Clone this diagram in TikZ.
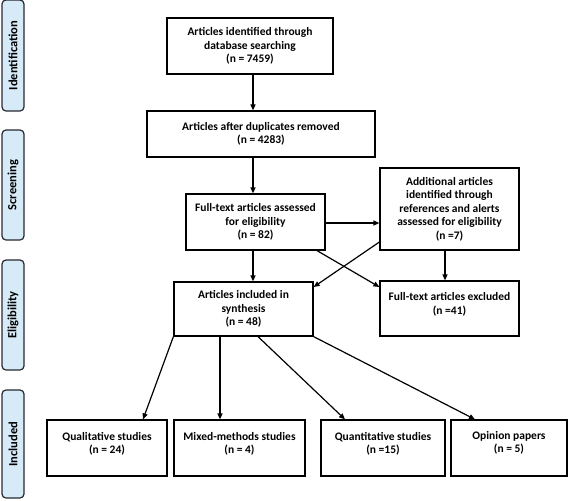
\documentclass[tikz,border=0pt]{standalone}
\usepackage{fontspec}
\setmainfont{Carlito}
\usetikzlibrary{arrows.meta,calc}
\definecolor{sidefill}{RGB}{214,234,248}
\definecolor{sidedraw}{RGB}{40,40,50}
\tikzset{
  box/.style={draw=black, line width=1.2pt, fill=white, align=center, font=\bfseries\fontsize{11.5}{13.5}\selectfont, inner sep=2pt},
  sidebox/.style={draw=sidedraw, line width=1.2pt, fill=sidefill, rounded corners=4pt, rotate=90, font=\bfseries\fontsize{12.5}{14}\selectfont, inner sep=0pt},
  arr/.style={line width=1.2pt, -{Triangle[length=6pt,width=5pt]}}
}
\begin{document}
\begin{tikzpicture}[x=1pt,y=-1pt]
\useasboundingbox (0,0) rectangle (568,501);
% side labels
\node[sidebox, minimum width=111, minimum height=22] (sI) at (13,55.5) {Identification};
\node[sidebox, minimum width=110, minimum height=22] (sS) at (13,185) {Screening};
\node[sidebox, minimum width=110, minimum height=22] (sE) at (13,315) {Eligibility};
\node[sidebox, minimum width=108, minimum height=22] (sN) at (13,444) {Included};
% boxes
\node[box, minimum width=166, minimum height=56] (b1) at (250,46) {Articles identified through\\database searching\\(n = 7459)};
\node[box, minimum width=228, minimum height=46] (b2) at (261,134) {Articles after duplicates removed\\(n = 4283)};
\node[box, minimum width=139, minimum height=56] (b3) at (255.5,222) {Full-text articles assessed\\for eligibility\\(n = 82)};
\node[box, minimum width=139, minimum height=82] (b4) at (449.5,209) {Additional articles\\identified through\\references and alerts\\assessed for eligibility\\(n =7)};
\node[box, minimum width=139, minimum height=55, text depth=10pt] (b5) at (449.5,308.5) {Full-text articles excluded\\(n =41)};
\node[box, minimum width=139, minimum height=54] (b6) at (243.5,309) {Articles included in\\synthesis\\(n = 48)};
\node[box, minimum width=120, minimum height=56, text depth=10pt] (q1) at (107,448) {Qualitative studies\\(n = 24)};
\node[box, minimum width=131, minimum height=56, text depth=10pt] (q2) at (239.5,448) {Mixed-methods studies\\(n = 4)};
\node[box, minimum width=124, minimum height=56, text depth=10pt] (q3) at (383,448) {Quantitative studies\\(n =15)};
\node[box, minimum width=116, minimum height=56, text depth=12pt] (q4) at (509,448) {Opinion papers\\(n = 5)};
% arrows
\draw[arr] (b1.south -| 253,0) -- (b2.north -| 253,0);
\draw[arr] (b2.south -| 253,0) -- (b3.north -| 253,0);
\draw[arr] (b3.east |- 0,223) -- (b4.west |- 0,223);
\draw[arr] (b3.south -| 253,0) -- (b6.north -| 253,0);
\draw[arr] (b4.south -| 445,0) -- (b5.north -| 445,0);
\draw[arr] (b4.west |- 0,242) -- (b6.east |- 0,287);
\draw[arr] (b3.south -| 317,0) -- (b5.west |- 0,287);
\draw[arr] (b6.south west) -- (q1.north -| 143,0);
\draw[arr] (b6.south -| 220,0) -- (q2.north -| 220,0);
\draw[arr] (b6.south -| 258,0) -- (q3.north -| 345,0);
\draw[arr] (b6.south east) -- (q4.north -| 475,0);
\end{tikzpicture}
\end{document}
